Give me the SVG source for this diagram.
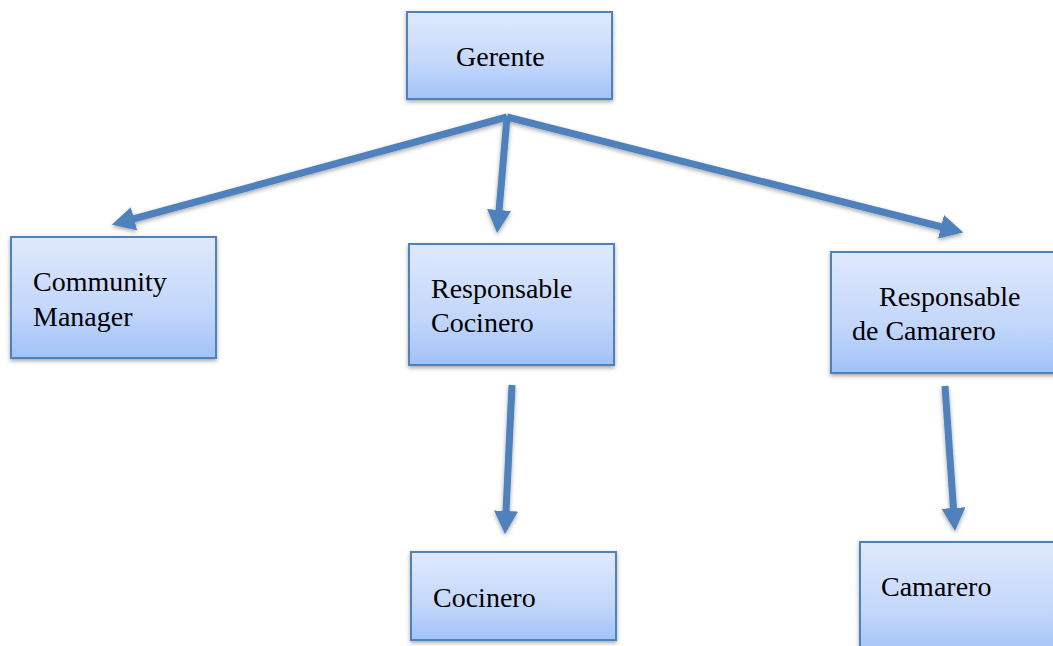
<svg xmlns="http://www.w3.org/2000/svg" width="1053" height="646" viewBox="0 0 1053 646">
  <style>
    .box { fill: url(#grad); stroke: #4f81bd; stroke-width: 2; filter: url(#shadow); }
    .lbl { font-family: 'Liberation Serif', 'Times New Roman', serif; font-size: 28px; fill: #000; }
    .conn { stroke: #4f81bd; stroke-width: 7; fill: none; marker-end: url(#arrow); }
  </style>
  <defs>
    <linearGradient id="grad" x1="0" y1="0" x2="0" y2="1">
      <stop offset="0" stop-color="#dfe9fc"/>
      <stop offset="0.6" stop-color="#c3d7fb"/>
      <stop offset="1" stop-color="#a2c2f8"/>
    </linearGradient>
    <filter id="shadow" x="-10%" y="-10%" width="130%" height="130%">
      <feDropShadow dx="0" dy="2" stdDeviation="2" flood-color="#000" flood-opacity="0.35"/>
    </filter>
    <marker id="arrow" markerUnits="userSpaceOnUse" markerWidth="26" markerHeight="28" refX="1" refY="13" orient="auto">
      <path d="M0,1 L23,13 L0,25 Z" fill="#4f81bd"/>
    </marker>
  </defs>
  <rect width="1053" height="646" fill="#fff"/>

  <g id="connectors" filter="url(#shadow)">
    <line class="conn" x1="507" y1="117" x2="133" y2="219"/>
    <line class="conn" x1="507" y1="117" x2="499" y2="211"/>
    <line class="conn" x1="507" y1="117" x2="942" y2="227"/>
    <line class="conn" x1="512" y1="385" x2="506" y2="512"/>
    <line class="conn" x1="945" y1="386" x2="953.5" y2="509"/>
  </g>

  <g id="gerente">
    <rect class="box" x="407" y="12" width="205" height="87"/>
    <text class="lbl" x="456" y="66">Gerente</text>
  </g>
  <g id="community-manager">
    <rect class="box" x="11" y="237" width="205" height="121"/>
    <text class="lbl" x="33" y="291">Community</text>
    <text class="lbl" x="33" y="326">Manager</text>
  </g>
  <g id="responsable-cocinero">
    <rect class="box" x="409" y="244" width="205" height="121"/>
    <text class="lbl" x="431" y="298">Responsable</text>
    <text class="lbl" x="431" y="332">Cocinero</text>
  </g>
  <g id="responsable-camarero">
    <rect class="box" x="831" y="252" width="230" height="121"/>
    <text class="lbl" x="879" y="306">Responsable</text>
    <text class="lbl" x="852" y="340">de Camarero</text>
  </g>
  <g id="cocinero">
    <rect class="box" x="411" y="552" width="205" height="88"/>
    <text class="lbl" x="433" y="607">Cocinero</text>
  </g>
  <g id="camarero">
    <rect class="box" x="860" y="542" width="200" height="115"/>
    <text class="lbl" x="881" y="596">Camarero</text>
  </g>
</svg>
